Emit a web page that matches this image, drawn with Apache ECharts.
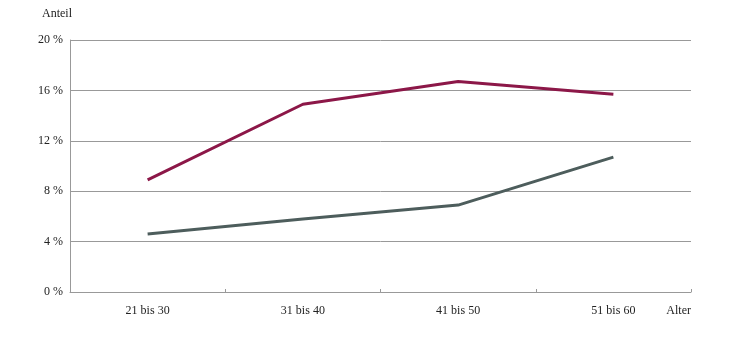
<!DOCTYPE html>
<html>
<head>
<meta charset="utf-8">
<script src="https://cdn.jsdelivr.net/npm/echarts@6/dist/echarts.min.js"></script>
<style>html,body{margin:0;padding:0;background:#fff}#c{width:730px;height:340px}</style>
</head>
<body>
<div id="c"></div>
<script>
const categories = ['21 bis 30', '31 bis 40', '41 bis 50', '51 bis 60'];
const seriesRed = [8.9, 14.9, 16.7, 15.7];
const seriesGrey = [4.6, 5.8, 6.9, 10.7];
const yTicks = [0, 4, 8, 12, 16, 20];

const FONT = '"Liberation Serif", "DejaVu Serif", serif';
const chart = echarts.init(document.getElementById('c'));
chart.setOption({
  animation: false,
  backgroundColor: '#fff',
  grid: { left: 70, right: 39, top: 40, bottom: 48, containLabel: false },
  xAxis: {
    type: 'category',
    data: categories,
    boundaryGap: true,
    axisLine: { lineStyle: { color: '#999', width: 1 } },
    axisTick: { show: true, inside: true, length: 3, lineStyle: { color: '#999' } },
    axisLabel: { color: '#222', fontFamily: FONT, fontSize: 12, margin: 13 },
    name: 'Alter',
    nameLocation: 'end',
    nameGap: 0,
    nameTextStyle: { color: '#222', fontFamily: FONT, fontSize: 12, align: 'right', verticalAlign: 'top', padding: [13, 0, 0, 0] }
  },
  yAxis: {
    type: 'value',
    min: 0, max: 20, interval: 4,
    name: 'Anteil',
    nameLocation: 'end',
    nameGap: 20,
    nameTextStyle: { color: '#222', fontFamily: FONT, fontSize: 12, align: 'right', padding: [0, -2, 0, 0] },
    axisLine: { show: true, lineStyle: { color: '#999', width: 1 } },
    axisTick: { show: false },
    axisLabel: { color: '#222', fontFamily: FONT, fontSize: 12, margin: 7, formatter: v => yTicks.includes(v) ? v + ' %' : '' },
    splitLine: { lineStyle: { color: '#999', width: 1 } }
  },
  series: [
    { type: 'line', data: seriesRed, symbol: 'none', lineStyle: { color: '#8c1748', width: 3 } },
    { type: 'line', data: seriesGrey, symbol: 'none', lineStyle: { color: '#4d5d5c', width: 3 } }
  ]
});
</script>
</body>
</html>
